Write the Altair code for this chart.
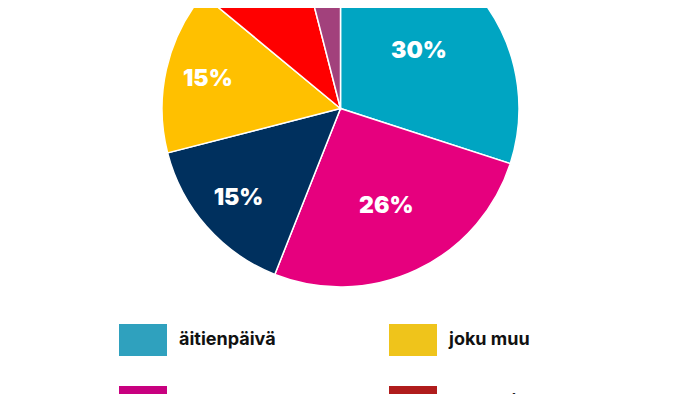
import altair as alt
import pandas as pd

# Pie data in clockwise order from 12 o'clock
categories = ["äitienpäivä", "en osaa sanoa", "isänpäivä", "joku muu", "kansallinen", "ystävänpäivä"]
shares = [30, 26, 15, 15, 10, 4]
pct_labels = ["30%", "26%", "15%", "15%", "10%", "4%"]
pie_colors = ["#00a5c2", "#e6007e", "#00305e", "#ffc000", "#ff0000", "#a2417c"]

# Legend (row-major, two columns)
legend_order = ["äitienpäivä", "joku muu", "en osaa sanoa", "kansallinen", "isänpäivä", "ystävänpäivä"]
legend_colors = ["#2fa1be", "#efc41b", "#c8007f", "#b01c1c", "#0b2f5b", "#9a3f77"]

df = pd.DataFrame({
    "cat": categories,
    "value": shares,
    "label": pct_labels,
    "idx": list(range(len(categories))),
})

CX, CY = 332.5, 100.5

base = alt.Chart(df)

pie = base.mark_arc(radius=178.5, stroke="white", strokeWidth=1.5).encode(
    theta=alt.Theta("value:Q", stack=True),
    order=alt.Order("idx:Q"),
    color=alt.Color("cat:N", scale=alt.Scale(domain=categories, range=pie_colors), legend=None),
    x=alt.value(CX),
    y=alt.value(CY),
)

labels = base.mark_text(font="Inter", fontSize=23, fontWeight=900, color="white").encode(
    theta=alt.Theta("value:Q", stack=True),
    order=alt.Order("idx:Q"),
    radius=alt.Radius("value:Q", scale=alt.Scale(domain=[10, 30], range=[149, 97], zero=False)),
    text="label:N",
    x=alt.value(CX),
    y=alt.value(CY),
)

legend_layer = base.mark_point(filled=True, size=10).encode(
    x=alt.value(-200),
    y=alt.value(-200),
    fill=alt.Fill(
        "cat:N",
        scale=alt.Scale(domain=legend_order, range=legend_colors),
        legend=alt.Legend(
            orient="none",
            direction="horizontal",
            legendX=119,
            legendY=316,
            columns=2,
            title=None,
            symbolType="M-1.5,-1L1.5,-1L1.5,1L-1.5,1Z",
            symbolSize=1024,
            symbolStrokeWidth=0,
            symbolOpacity=1,
            labelFont="Inter",
            labelFontSize=18,
            labelFontWeight=700,
            labelColor="#111111",
            labelOffset=20,
            labelLimit=400,
            rowPadding=30,
            columnPadding=84,
            padding=0,
        ),
    ),
)

chart = alt.layer(pie, labels, legend_layer).resolve_scale(
    color="independent", fill="independent"
).properties(
    width=684,
    height=386,
    padding=0,
    autosize=alt.AutoSizeParams(type="none"),
    background="white",
).configure_view(stroke=None)

chart.save("out.html", embed_options={"renderer": "svg", "actions": False})
